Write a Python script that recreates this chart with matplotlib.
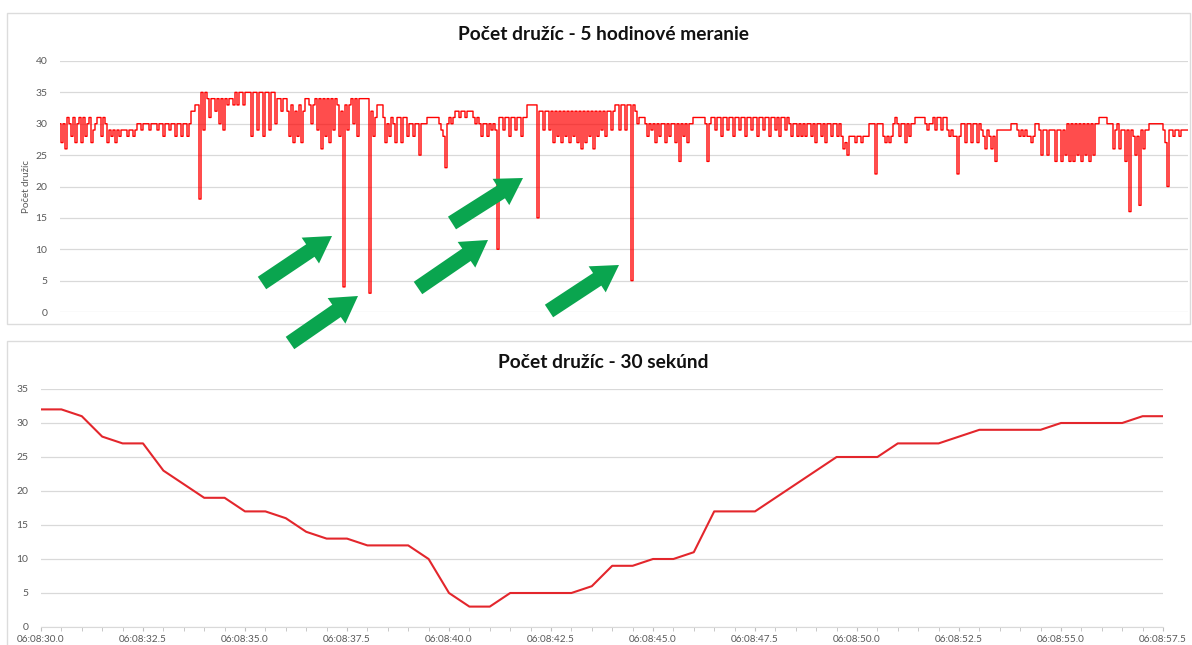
import numpy as np
import matplotlib
matplotlib.use('Agg')
import matplotlib.pyplot as plt
from matplotlib.patches import Rectangle
from matplotlib.ticker import MultipleLocator, FixedLocator

plt.rcParams['font.family'] = ['Lato', 'DejaVu Sans']

long_seg_a = [30,27,30,26,31,30,28,31,27,30,
              31,27,31,28,30,31,27,29,30,31,
              31,28,31,30,27,29,28,29,27,29,
              28,29,29,29,28,29,29,28,29,30,
              30,29,30,30,30,29,30,30,30,29,
              30,30,28,30,30,29,30,30,28,30,
              30,28,30,30,28,30,32,32,33,33,
              18,35,29,35,34,31,34,34,32,34,
              30,34,29,34,33,34,34,33,35,33,
              35,35,33,35,35]
long_seg_b = [35,28,35,35,29,35,35,28,35,35,
              29,35,35,30,34,34,32,34,34,32,
              28,33,27,32,28,33,27,32,34,34,
              33,30,33,34,29,34,26,34,28,34,
              27,34,29,34,33,28,32,4,33,29,
              33,34,30,34,28,34,34,34,34,34,
              3,32,28,31,33,33,33,31,27,30,
              28,31,30,27,31,31,27,31,31,28,
              30,30,28,30,30,25,30,30,30,31,
              31,31,31,31,31]
long_seg_c = [30,29,28,23,30,31,30,31,32,32,
              31,32,32,31,32,32,32,31,30,31,
              30,28,30,30,28,30,29,30,29,10,
              31,31,29,31,31,28,31,31,29,31,
              31,28,31,31,33,33,33,33,33,15,
              32,32,29,32,32,29,32,27,32,28,
              32,27,32,28,32,27,32,28,32,27,
              32,26,32,27,32,28,32,26,32,28,
              32,29,32,28,32,32,29,32,33,33,
              29,33,33,29,33]
long_seg_d = [33,5,33,32,30,31,31,31,30,28,
              30,29,30,27,30,28,30,30,27,30,
              28,30,30,27,30,24,30,28,30,27,
              30,30,31,31,31,31,31,31,30,24,
              30,31,31,29,31,31,28,31,31,29,
              31,31,28,31,31,29,31,31,28,31,
              31,29,31,31,28,31,31,29,31,31,
              28,31,31,29,31,28,31,31,29,31,
              30,28,30,30,28,30,28,30,28,30,
              30,28,30,27,30]
long_seg_e = [30,28,30,27,30,30,28,30,30,28,
              30,28,26,27,25,28,28,28,27,28,
              28,27,28,28,28,30,30,30,22,30,
              30,30,28,27,28,27,28,30,31,30,
              28,30,30,27,30,28,30,30,31,31,
              31,31,31,30,29,30,30,31,29,31,
              31,29,31,31,29,28,29,28,28,22,
              28,30,30,27,30,30,27,30,30,27,
              30,29,28,26,29,28,26,28,24,29,
              29,29,29,29,29]
long_seg_f = [29,30,30,30,29,28,29,28,29,28,
              28,27,28,30,30,29,25,29,29,25,
              29,29,29,24,29,29,24,29,25,30,
              24,30,24,30,25,30,24,30,25,30,
              24,30,25,30,30,31,31,31,31,30,
              30,30,26,29,30,26,29,29,24,29,
              16,29,28,25,28,17,29,26,29,29,
              30,30,30,30,30,30,30,29,27,20,
              29,29,28,29,29,28,29,29,29,29]
long_values = (long_seg_a + long_seg_b + long_seg_c +
               long_seg_d + long_seg_e + long_seg_f)

# ---------------- data: 30-second detail ----------------
short_seconds = np.arange(30.0, 57.51, 0.5)   # 06:08:30.0 ... 06:08:57.5
short_values = [32,32,31,28,27,27,23,21,19,19,
                17,17,16,14,13,13,12,12,12,10,
                5,3,3,5,5,5,5,6,9,9,
                10,10,11,17,17,17,19,21,23,25,
                25,25,27,27,27,28,29,29,29,29,
                30,30,30,30,31,31]
short_tick_seconds = [30.0, 32.5, 35.0, 37.5, 40.0, 42.5, 45.0, 47.5, 50.0, 52.5, 55.0, 57.5]
short_tick_labels = ['06:08:30.0', '06:08:32.5', '06:08:35.0', '06:08:37.5', '06:08:40.0',
                     '06:08:42.5', '06:08:45.0', '06:08:47.5', '06:08:50.0', '06:08:52.5',
                     '06:08:55.0', '06:08:57.5']

title_top = 'Počet družíc - 5 hodinové meranie'
title_bottom = 'Počet družíc - 30 sekúnd'
ylabel_top = 'Počet družíc'

# annotation arrows (figure pixels, from top-left origin)
arrow_tails = [(262, 283), (290, 343), (418, 288), (452, 223), (549, 311)]
arrow_tips = [(332, 236), (358, 296), (488, 240), (523, 178), (619, 265)]

# ---------------- figure ----------------
W, H = 1192, 645
fig = plt.figure(figsize=(W / 100, H / 100), dpi=100)
fig.patch.set_facecolor('white')

grid_c = '#d9d9d9'
lab_c = '#595959'

# panel frames
fig.add_artist(Rectangle((7 / W, (H - 324) / H), 1183 / W, 311 / H, transform=fig.transFigure,
                         fill=False, edgecolor='#dcdcdc', lw=1.0))
fig.add_artist(Rectangle((7 / W, -10 / H), 1190 / W, (H - 341 + 10) / H, transform=fig.transFigure,
                         fill=False, edgecolor='#dcdcdc', lw=1.0))

# ----- top axes -----
ax1 = fig.add_axes([60 / W, (H - 312) / H, 1128 / W, 251 / H])
x_idx = np.arange(len(long_values))
ax1.plot(x_idx, long_values, color='#ff0000', lw=1.0, drawstyle='steps-mid', zorder=3)
ax1.set_xlim(0, len(long_values) - 1)
ax1.set_ylim(0, 40)
ax1.set_yticks(range(0, 41, 5))
ax1.set_xticks([])
ax1.grid(axis='y', color=grid_c, lw=0.9)
ax1.set_axisbelow(True)
for s in ax1.spines.values():
    s.set_visible(False)
ax1.tick_params(axis='y', length=0, pad=9, labelsize=7.5, labelcolor=lab_c)
ax1.set_ylabel(ylabel_top, fontsize=7, color=lab_c, labelpad=3)
fig.text(604 / W, (H - 35) / H, title_top, ha='center', va='center',
         fontsize=13.8, fontweight='bold', color='#111111')

# ----- bottom axes -----
ax2 = fig.add_axes([41 / W, (H - 627) / H, 1122 / W, 238 / H])
ax2.plot(short_seconds, short_values, color='#e3262c', lw=1.5, zorder=3)
ax2.set_xlim(30.0, 57.5)
ax2.set_ylim(0, 35)
ax2.set_yticks(range(0, 36, 5))
ax2.xaxis.set_major_locator(FixedLocator(short_tick_seconds))
ax2.set_xticklabels(short_tick_labels)
ax2.xaxis.set_minor_locator(MultipleLocator(0.5))
ax2.grid(axis='y', color=grid_c, lw=0.9)
ax2.set_axisbelow(True)
for k, s in ax2.spines.items():
    s.set_visible(k == 'bottom')
ax2.spines['bottom'].set_color(grid_c)
ax2.tick_params(axis='y', length=0, pad=9, labelsize=7.5, labelcolor=lab_c)
ax2.tick_params(axis='x', which='both', length=3, color='#bfbfbf', pad=3,
                labelsize=7.2, labelcolor=lab_c, direction='out')
fig.text(603 / W, (H - 363) / H, title_bottom, ha='center', va='center',
         fontsize=13.8, fontweight='bold', color='#111111')

# ----- green arrows -----
for (tx, ty), (hx, hy) in zip(arrow_tails, arrow_tips):
    ann = fig.add_artist(plt.Annotation(
        '', xy=(hx, H - hy), xycoords='figure pixels',
        xytext=(tx, H - ty), textcoords='figure pixels',
        arrowprops=dict(arrowstyle='simple,head_length=0.94,head_width=1.12,tail_width=0.54',
                        color='#0aa54f', mutation_scale=20, shrinkA=0, shrinkB=0, lw=0),
        annotation_clip=False))
    ann.set_zorder(20)

fig.savefig('out.png', dpi=100, facecolor='white')
